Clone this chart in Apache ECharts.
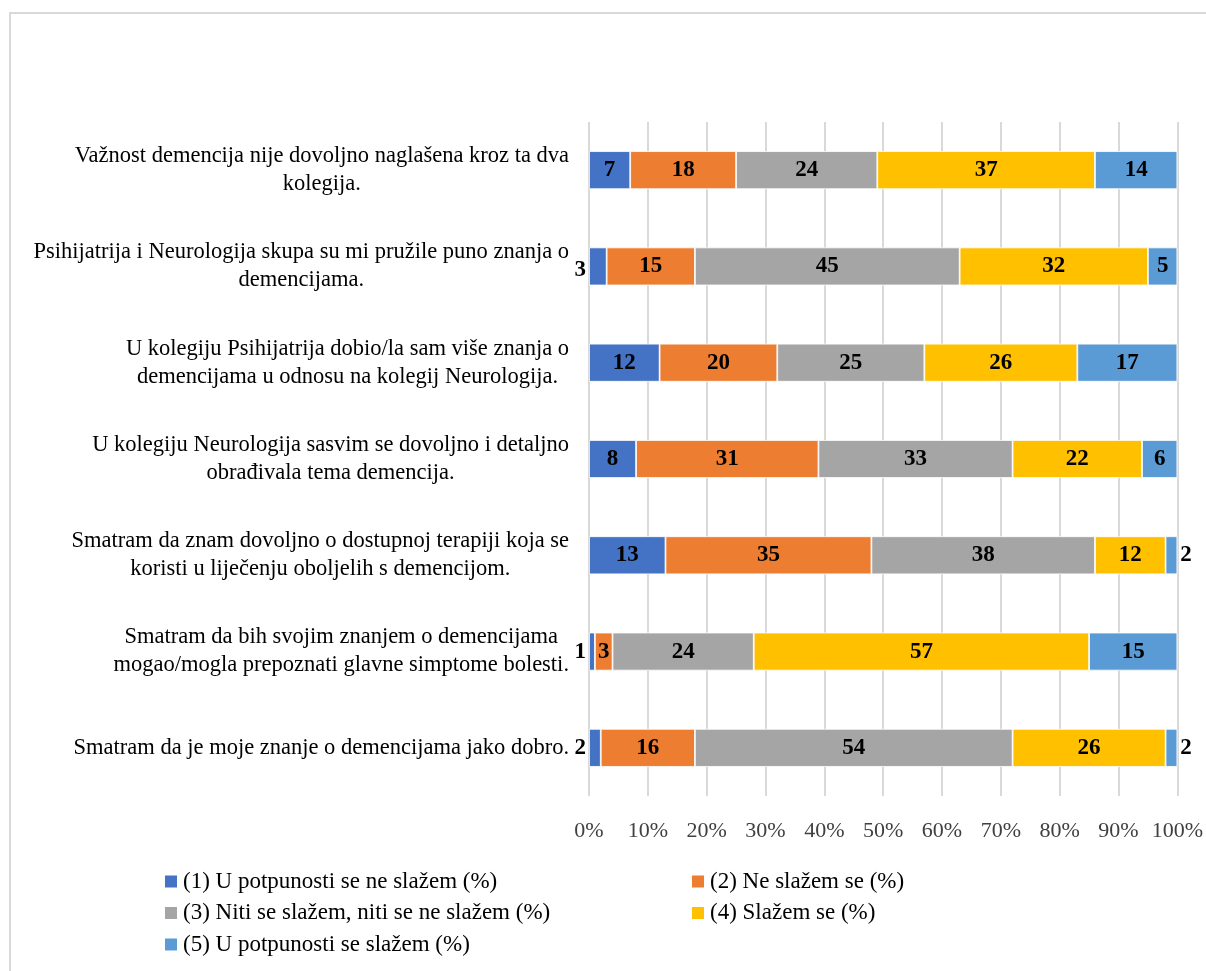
<!DOCTYPE html>
<html>
<head>
<meta charset="utf-8">
<script src="https://cdn.jsdelivr.net/npm/echarts@6/dist/echarts.min.js"></script>
<style>
html,body{margin:0;padding:0;background:#fff;}
#chart{width:1206px;height:971px;}
</style>
</head>
<body>
<div id="chart"></div>
<script>
const categories = [
  'Važnost demencija nije dovoljno naglašena kroz ta dva\nkolegija.',
  'Psihijatrija i Neurologija skupa su mi pružile puno znanja o\ndemencijama.',
  'U kolegiju Psihijatrija dobio/la sam više znanja o\ndemencijama u odnosu na kolegij Neurologija.',
  'U kolegiju Neurologija sasvim se dovoljno i detaljno\nobrađivala tema demencija.',
  'Smatram da znam dovoljno o dostupnoj terapiji koja se\nkoristi u liječenju oboljelih s demencijom.',
  'Smatram da bih svojim znanjem o demencijama\nmogao/mogla prepoznati glavne simptome bolesti.',
  'Smatram da je moje znanje o demencijama jako dobro.'
];
const seriesNames = [
  '(1) U potpunosti se ne slažem (%)',
  '(2) Ne slažem se (%)',
  '(3) Niti se slažem, niti se ne slažem (%)',
  '(4) Slažem se (%)',
  '(5) U potpunosti se slažem (%)'
];
const s1 = [7, 3, 12, 8, 13, 1, 2];
const s2 = [18, 15, 20, 31, 35, 3, 16];
const s3 = [24, 45, 25, 33, 38, 24, 54];
const s4 = [37, 32, 26, 22, 12, 57, 26];
const s5 = [14, 5, 17, 6, 2, 15, 2];
const xTicks = [0, 10, 20, 30, 40, 50, 60, 70, 80, 90, 100];

const colors = ['#4472C4', '#ED7D31', '#A5A5A5', '#FFC000', '#5B9BD5'];
// label placement for small segments: [seriesIndex][rowIndex] -> position
const outside = {
  0: {1: 'left', 5: 'left', 6: 'left'},
  4: {4: 'right', 6: 'right'}
};
const FONT = '"Liberation Serif", "Times New Roman", serif';

const allSeries = [s1, s2, s3, s4, s5];
const series = allSeries.map((vals, si) => ({
  name: seriesNames[si],
  type: 'bar',
  stack: 'total',
  barWidth: 38,
  itemStyle: {color: colors[si], borderColor: '#fff', borderWidth: 0.8},
  label: {
    show: true,
    position: 'inside',
    color: '#000',
    fontWeight: 'bold',
    fontFamily: FONT,
    fontSize: 23
  },
  data: vals.map((v, ri) => {
    const pos = outside[si] && outside[si][ri];
    if (pos) {
      return {value: v, label: {position: pos, distance: 3, offset: (si === 0 && ri === 1) ? [0, 4] : [0, 0]}};
    }
    return v;
  })
}));

const legendCommon = {
  orient: 'vertical',
  itemWidth: 14, itemHeight: 14, itemGap: 8.5,
  icon: 'rect',
  textStyle: {fontFamily: FONT, fontSize: 23, color: '#000', lineHeight: 22}
};

const chart = echarts.init(document.getElementById('chart'), null, {renderer: 'canvas'});
chart.setOption({
  animation: false,
  backgroundColor: '#fff',
  color: colors,
  graphic: [{
    type: 'rect',
    shape: {x: 10, y: 13, width: 1250, height: 1000},
    style: {fill: 'none', stroke: '#d9d9d9', lineWidth: 2},
    silent: true,
    z: -1
  }],
  grid: {left: 589, right: 28, top: 122, bottom: 175, containLabel: false},
  xAxis: {
    type: 'value',
    min: 0,
    max: 100,
    interval: 10,
    axisLine: {show: false},
    axisTick: {show: false},
    splitLine: {show: true, lineStyle: {color: '#d9d9d9', width: 2}},
    axisLabel: {
      formatter: v => xTicks.includes(v) ? v + '%' : '',
      color: '#404040',
      fontFamily: FONT,
      fontSize: 22,
      margin: 24
    }
  },
  yAxis: {
    type: 'category',
    inverse: true,
    data: categories,
    axisLine: {show: false},
    axisTick: {show: false},
    axisLabel: {
      margin: 20,
      align: 'right',
      formatter: v => v.split('\n').map(l => '{c|' + l + '}').join('\n'),
      rich: {
        c: {align: 'center', fontFamily: FONT, fontSize: 22.5, color: '#000', lineHeight: 28}
      }
    }
  },
  legend: [
    Object.assign({data: [seriesNames[0], seriesNames[2], seriesNames[4]], left: 158, top: 865}, legendCommon),
    Object.assign({data: [seriesNames[1], seriesNames[3]], left: 685, top: 865}, legendCommon)
  ],
  series: series
});
</script>
</body>
</html>
